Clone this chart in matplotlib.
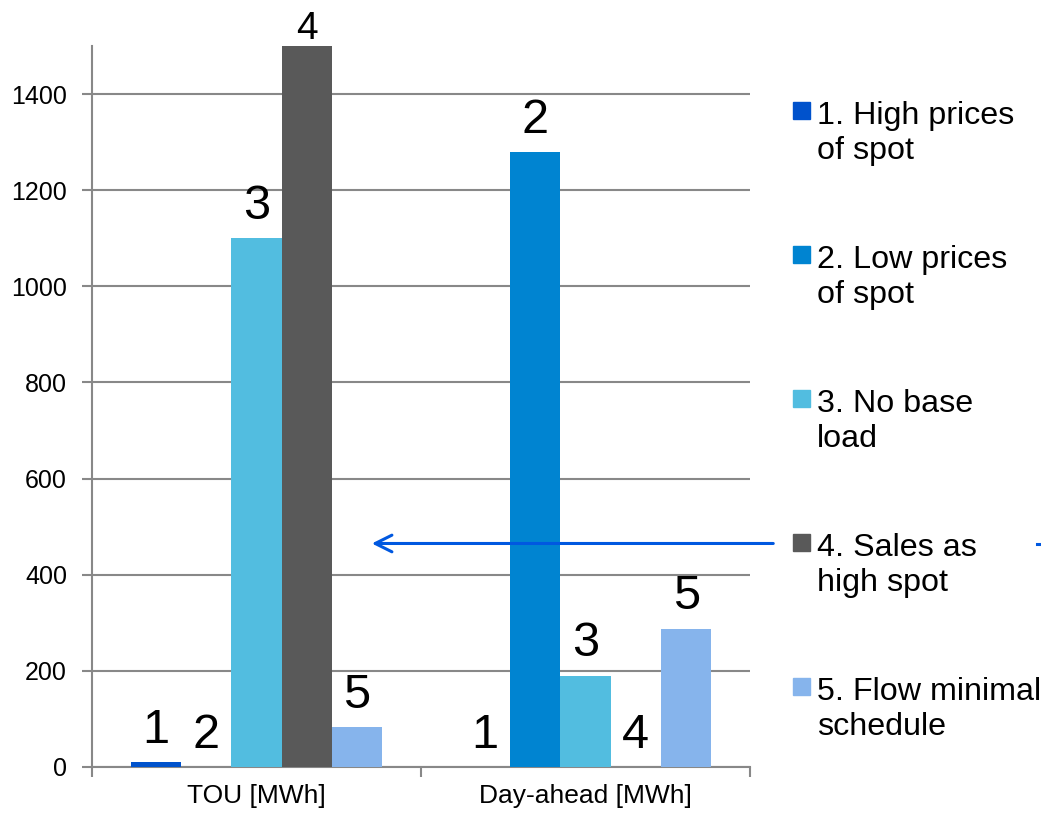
import matplotlib.pyplot as plt
import numpy as np
from matplotlib.patches import Rectangle

plt.rcParams['font.family'] = ['Liberation Sans', 'DejaVu Sans']

categories = ['TOU [MWh]', 'Day-ahead [MWh]']
series_names = ['1. High prices\nof spot', '2. Low prices\nof spot', '3. No base\nload',
                '4. Sales as\nhigh spot', '5. Flow minimal\nschedule']
bar_tags = ['1', '2', '3', '4', '5']
colors = ['#0052CC', '#0084D1', '#52BDE0', '#595959', '#86B4EC']

tou = [10, 0, 1100, 1500, 83]
day_ahead = [0, 1279, 190, 0, 288]
values = np.array([tou, day_ahead])

yticks = [0, 200, 400, 600, 800, 1000, 1200, 1400]
ymax = 1500

fig = plt.figure(figsize=(10.41, 8.13), dpi=100)
ax = fig.add_axes([0.0884, 0.0566, 0.6321, 0.8868])

grid_col = '#888888'
n = len(bar_tags)
width = 0.764 / n
x = np.arange(len(categories))

for i in range(n):
    pos = x + (i - (n - 1) / 2) * width
    ax.bar(pos, values[:, i], width, color=colors[i], zorder=3)
    for xp, v in zip(pos, values[:, i]):
        # label near the top gets squeezed in like in the original
        if v >= ymax:
            ax.annotate(bar_tags[i], (xp, v), xytext=(0, 5), textcoords='offset points',
                        ha='center', va='baseline', fontsize=28, annotation_clip=False)
        else:
            ax.annotate(bar_tags[i], (xp, v), xytext=(0, 14), textcoords='offset points',
                        ha='center', va='baseline', fontsize=35)

ax.set_xlim(-0.5, len(categories) - 0.5)
ax.set_ylim(0, ymax)
ax.set_yticks(yticks)
ax.set_yticklabels([str(t) for t in yticks], fontsize=18)
ax.set_xticks(x)
ax.set_xticklabels(categories, fontsize=19)
ax.set_xticks(np.arange(len(categories) + 1) - 0.5, minor=True)
ax.tick_params(axis='x', which='major', length=0, pad=12)
ax.tick_params(axis='x', which='minor', length=7, width=1.5, color=grid_col)
ax.tick_params(axis='y', length=7, width=1.5, color=grid_col, pad=11)

ax.grid(axis='y', color=grid_col, linewidth=1.5, zorder=0)
for s in ['top', 'right']:
    ax.spines[s].set_visible(False)
for s in ['left', 'bottom']:
    ax.spines[s].set_color(grid_col)
    ax.spines[s].set_linewidth(1.5)

# legend drawn by hand so the square sits on the first line
W, H = fig.get_size_inches() * fig.dpi
for k, (name, c) in enumerate(zip(series_names, colors)):
    base = 122 + k * 144
    fig.patches.append(Rectangle((793 / W, 1 - (base - 3) / H), 17 / W, 17 / H,
                                 transform=fig.transFigure, color=c, figure=fig))
    # va='baseline' on multi-line text uses the last line
    fig.text(817 / W, 1 - (base + 37) / H, name, fontsize=23.2, va='baseline', ha='left',
             linespacing=1.22)

# arrow pointing back at the TOU bars
ax.annotate('', xy=(0.342, 465), xytext=(1.579, 465),
            arrowprops=dict(arrowstyle='->', color='#0058E0', lw=2.2,
                            mutation_scale=30),
            annotation_clip=False, zorder=5)
fig.add_artist(plt.Line2D([1037 / W, 1041 / W], [1 - 544 / H, 1 - 544 / H],
                          color='#0058E0', lw=2.2, transform=fig.transFigure))

fig.savefig('out.png', dpi=100)
